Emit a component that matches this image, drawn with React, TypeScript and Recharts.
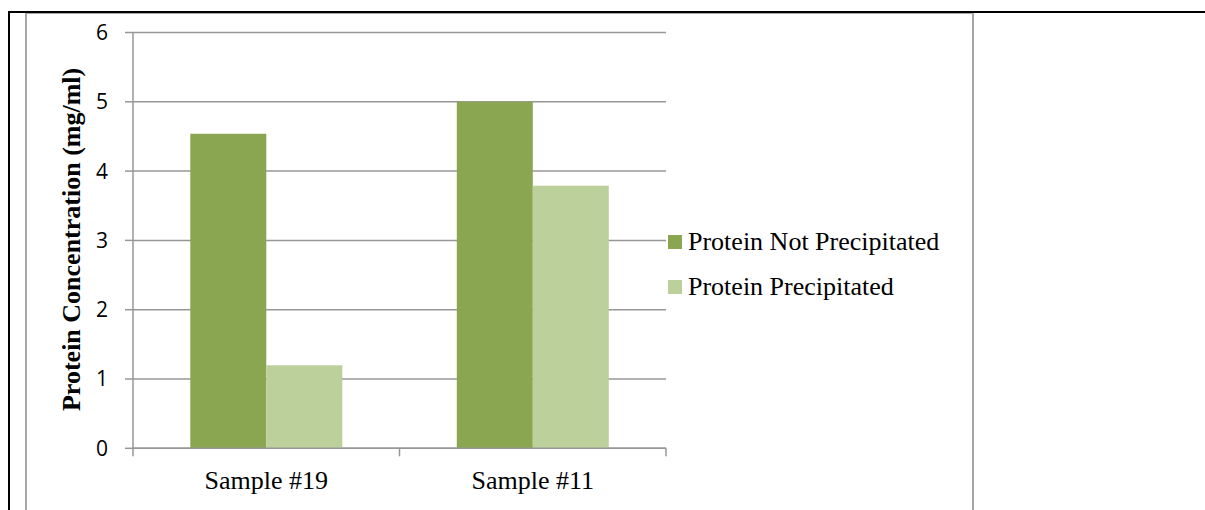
import React from "react";
import { BarChart, Bar, XAxis, YAxis, CartesianGrid, Legend } from "recharts";

const categories = ["Sample #19", "Sample #11"];
const notPrecipitated = [4.54, 5.0];
const precipitated = [1.2, 3.79];
const yTicks = [0, 1, 2, 3, 4, 5, 6];
const seriesNames = ["Protein Not Precipitated", "Protein Precipitated"];
const yTitle = "Protein Concentration (mg/ml)";

const data = categories.map((c, i) => ({
  name: c,
  notPrecipitated: notPrecipitated[i],
  precipitated: precipitated[i],
}));

const GRID = "#979797";
const SERIF = "'Liberation Serif', 'Times New Roman', serif";

const XTick = (props: any) => {
  const { x, y, payload, index, width, visibleTicksCount } = props;
  const band = width && visibleTicksCount ? width / visibleTicksCount : 0;
  const axisY = y - 8;
  return (
    <g>
      {band > 0 && index === 0 && (
        <line x1={x - band / 2} x2={x - band / 2} y1={axisY} y2={axisY + 8} stroke={GRID} strokeWidth={1.5} />
      )}
      {band > 0 && (
        <line x1={x + band / 2} x2={x + band / 2} y1={axisY} y2={axisY + 8} stroke={GRID} strokeWidth={1.5} />
      )}
      <text x={x} y={y} dy={33} textAnchor="middle" fill="#000" fontFamily={SERIF} fontSize={26}>
        {payload.value}
      </text>
    </g>
  );
};

const YTitle = (props: any) => {
  const vb = props.viewBox || {};
  const cx = (vb.x || 0) + 80;
  const cy = (vb.y || 0) + (vb.height || 0) / 2 - 1;
  return (
    <text
      x={cx}
      y={cy}
      transform={`rotate(-90, ${cx}, ${cy})`}
      textAnchor="middle"
      fontFamily={SERIF}
      fontWeight="bold"
      fontSize={26}
      fill="#000"
    >
      {yTitle}
    </text>
  );
};

const LegendContent = (props: any) => {
  const { payload } = props;
  return (
    <div>
      {(payload || []).map((p: any, i: number) => (
        <div
          key={i}
          style={{ display: "flex", alignItems: "center", height: 28, marginBottom: 17 }}
        >
          <div style={{ width: 14, height: 14, background: p.color, marginRight: 6 }} />
          <span
            style={{ fontFamily: SERIF, fontSize: 26, lineHeight: "28px", color: "#000", whiteSpace: "nowrap" }}
          >
            {p.value}
          </span>
        </div>
      ))}
    </div>
  );
};

export default function App() {
  return (
    <div style={{ position: "absolute", left: 0, top: 0, width: 1205, height: 510, background: "#fff", overflow: "hidden" }}>
      <div
        style={{
          position: "absolute",
          left: 25,
          top: 12,
          width: 945,
          height: 520,
          border: "2px solid #a6a6a6",
        }}
      />
      <div style={{ position: "absolute", left: 8, top: 11, width: 1197, height: 2, background: "#000" }} />
      <div style={{ position: "absolute", left: 8, top: 11, width: 2, height: 499, background: "#000" }} />
      <div style={{ position: "absolute", left: 0, top: 0 }}>
        <BarChart
          width={1205}
          height={510}
          data={data}
          margin={{ top: 32.5, right: 539, bottom: 21.7, left: 0 }}
          barCategoryGap="21.5%"
          barGap={0}
        >
          <CartesianGrid horizontal vertical={false} stroke={GRID} strokeWidth={1.5} />
          <XAxis
            dataKey="name"
            height={40}
            tickLine={false}
            tickSize={8}
            tickMargin={0}
            axisLine={{ stroke: GRID, strokeWidth: 1.5 }}
            tick={<XTick />}
            interval={0}
          />
          <YAxis
            width={133}
            domain={[0, 6]}
            ticks={yTicks}
            tickSize={8}
            tickMargin={17}
            axisLine={{ stroke: GRID, strokeWidth: 1.5 }}
            tickLine={{ stroke: GRID, strokeWidth: 1.5 }}
            tick={{ fill: "#000", fontSize: 21, fontFamily: "'Open Sans', sans-serif" }}
            label={{ content: <YTitle /> }}
          />
          <Legend
            layout="vertical"
            align="center"
            verticalAlign="middle"
            content={<LegendContent />}
            wrapperStyle={{ left: 668, top: 228, width: 320 }}
          />
          <Bar dataKey="notPrecipitated" name={seriesNames[0]} fill="#8BA650" isAnimationActive={false} />
          <Bar dataKey="precipitated" name={seriesNames[1]} fill="#BBD09B" isAnimationActive={false} />
        </BarChart>
      </div>
    </div>
  );
}
